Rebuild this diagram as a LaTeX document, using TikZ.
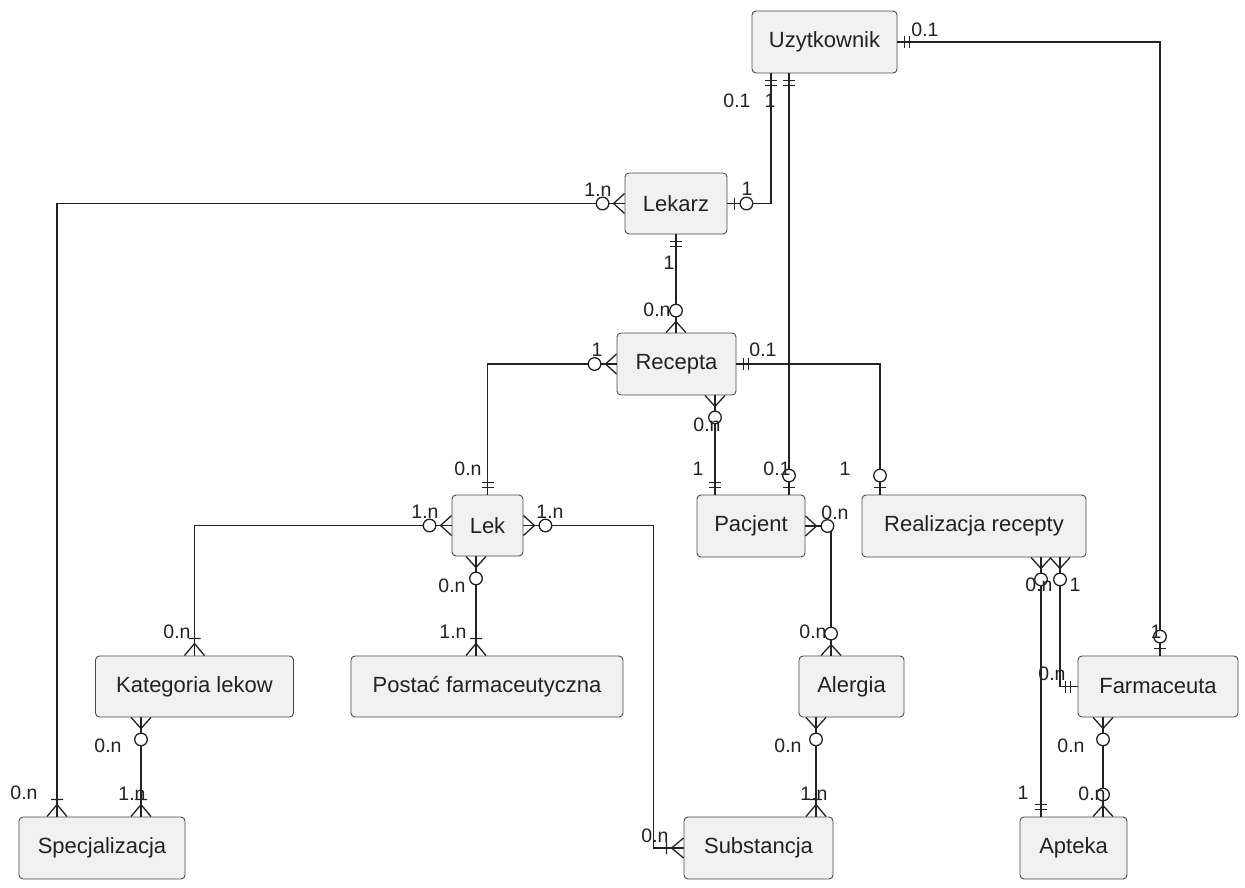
\documentclass[tikz,border=0pt]{standalone}
\usepackage{fontspec}
\setmainfont{Liberation Sans}
\definecolor{boxfill}{HTML}{F1F1F1}
\definecolor{boxline}{HTML}{4A4A4A}
\definecolor{lncol}{HTML}{222222}
\begin{document}
\begin{tikzpicture}[x=1pt,y=-1pt,
  ent/.style={draw=boxline, fill=boxfill, rounded corners=4pt, line width=0.9pt, minimum height=62pt, inner sep=0pt, font=\fontsize{22}{26}\selectfont, text=lncol},
  card/.style={inner sep=0pt, font=\fontsize{19.5}{22}\selectfont, text=lncol},
  conn/.style={line width=1.3pt, draw=lncol},
  mk/.style={line width=1.3pt, draw=lncol},
  mandone/.pic={\draw[mk] (7,-6)--(7,6) (12,-6)--(12,6);},
  zeroone/.pic={\draw[mk] (7,-6)--(7,6); \draw[mk,fill=white] (19,0) circle[radius=6.3pt];},
  zeromany/.pic={\draw[mk] (0,-10)--(11,0)--(0,10); \draw[mk,fill=white] (22,0) circle[radius=6.3pt];},
  onemany/.pic={\draw[mk] (0,-10)--(12,0)--(0,10) (17,-6)--(17,6);}
]
\useasboundingbox (0,0) rectangle (1245,888);

% entities
\node[ent, minimum width=145pt] (uzyt) at (824.5,42) {Uzytkownik};
\node[ent, minimum width=102pt, minimum height=61pt] (lekarz) at (676,203.5) {Lekarz};
\node[ent, minimum width=119pt] (recepta) at (676.5,364) {Recepta};
\node[ent, minimum width=71pt, minimum height=61pt] (lek) at (487.5,525.5) {Lek};
\node[ent, minimum width=108pt] (pacjent) at (751,526) {Pacjent};
\node[ent, minimum width=224pt] (realiz) at (974,526) {Realizacja recepty};
\node[ent, minimum width=198pt, minimum height=61pt] (kat) at (194.5,686.5) {Kategoria lekow};
\node[ent, minimum width=272pt, minimum height=61pt] (postac) at (487,686.5) {Postać farmaceutyczna};
\node[ent, minimum width=105pt, minimum height=61pt] (alergia) at (851.5,686.5) {Alergia};
\node[ent, minimum width=160pt, minimum height=61pt] (farm) at (1158,686.5) {Farmaceuta};
\node[ent, minimum width=166pt] (spec) at (102,848) {Specjalizacja};
\node[ent, minimum width=149pt] (subst) at (758.5,848) {Substancja};
\node[ent, minimum width=107pt] (apteka) at (1073.5,848) {Apteka};

% connector end points
\coordinate (uB) at ([xshift=-53.5pt]uzyt.south);
\coordinate (uC) at ([xshift=-35.5pt]uzyt.south);
\coordinate (fA) at ([xshift=2pt]farm.north);
\coordinate (sD) at ([xshift=-45pt]spec.north);
\coordinate (rE) at (lekarz.south |- recepta.north);
\coordinate (rH) at ([xshift=38.5pt]recepta.south);
\coordinate (pH) at ([xshift=-36pt]pacjent.north);
\coordinate (pC) at ([xshift=38pt]pacjent.north);
\coordinate (zG) at ([xshift=-94pt]realiz.north);
\coordinate (jJ) at ([xshift=-30pt]subst.west);
\coordinate (lK) at ([xshift=-11.5pt]lek.south);
\coordinate (kK) at (lK |- postac.north);
\coordinate (aL) at ([xshift=-20.5pt]alergia.north);
\coordinate (kM) at ([xshift=-53.5pt]kat.south);
\coordinate (sM) at ([xshift=39pt]spec.north);
\coordinate (aN) at ([xshift=-35.5pt]alergia.south);
\coordinate (tN) at ([xshift=57.5pt]subst.north);
\coordinate (zO) at ([xshift=67pt]realiz.south);
\coordinate (pO) at ([xshift=-32.5pt]apteka.north);
\coordinate (zP) at ([xshift=86pt]realiz.south);
\coordinate (fQ) at ([xshift=-55pt]farm.south);
\coordinate (pQ) at ([xshift=29.5pt]apteka.north);

% connectors
\draw[conn] (uzyt.east) -| (fA);
\draw[conn] (uB) |- (lekarz.east);
\draw[conn] (uC) -- (pC);
\draw[conn] (lekarz.west) -| (sD);
\draw[conn] (lekarz.south) -- (rE);
\draw[conn] (recepta.west) -| (lek.north);
\draw[conn] (recepta.east) -| (zG);
\draw[conn] (rH) -- (pH);
\draw[conn] (lek.west) -| (kat.north);
\draw[conn] (lek.east) -| (jJ) -- (subst.west);
\draw[conn] (lK) -- (kK);
\draw[conn] (pacjent.east) -| (aL);
\draw[conn] (kM) -- (sM);
\draw[conn] (aN) -- (tN);
\draw[conn] (zO) -- (pO);
\draw[conn] (zP) |- (farm.west);
\draw[conn] (fQ) -- (pQ);

% markers
\pic[rotate=0] at (uzyt.east) {mandone};
\pic[rotate=90] at (fA) {zeroone};
\pic[rotate=270] at (uB) {mandone};
\pic[rotate=0] at (lekarz.east) {zeroone};
\pic[rotate=270] at (uC) {mandone};
\pic[rotate=90] at (pC) {zeroone};
\pic[rotate=180] at (lekarz.west) {zeromany};
\pic[rotate=90] at (sD) {onemany};
\pic[rotate=270] at (lekarz.south) {mandone};
\pic[rotate=90] at (rE) {zeromany};
\pic[rotate=180] at (recepta.west) {zeromany};
\pic[rotate=90] at (lek.north) {mandone};
\pic[rotate=0] at (recepta.east) {mandone};
\pic[rotate=90] at (zG) {zeroone};
\pic[rotate=270] at (rH) {zeromany};
\pic[rotate=90] at (pH) {mandone};
\pic[rotate=180] at (lek.west) {zeromany};
\pic[rotate=90] at (kat.north) {onemany};
\pic[rotate=0] at (lek.east) {zeromany};
\pic[rotate=180] at (subst.west) {onemany};
\pic[rotate=270] at (lK) {zeromany};
\pic[rotate=90] at (kK) {onemany};
\pic[rotate=0] at (pacjent.east) {zeromany};
\pic[rotate=90] at (aL) {zeromany};
\pic[rotate=270] at (kM) {zeromany};
\pic[rotate=90] at (sM) {onemany};
\pic[rotate=270] at (aN) {zeromany};
\pic[rotate=90] at (tN) {onemany};
\pic[rotate=270] at (zO) {zeromany};
\pic[rotate=90] at (pO) {mandone};
\pic[rotate=270] at (zP) {zeromany};
\pic[rotate=180] at (farm.west) {mandone};
\pic[rotate=270] at (fQ) {zeromany};
\pic[rotate=90] at (pQ) {zeromany};

% cardinality labels
\node[card] (cA1) at (925,30) {0.1};
\node[card] (cA2) at (1156,632) {1};
\node[card] (cB1) at (737,101) {0.1};
\node[card] (cB2) at (747,189) {1};
\node[card] (cC1) at (770,101) {1};
\node[card] (cC2) at (777,469) {0.1};
\node[card] (cD1) at (598,190) {1.n};
\node[card] (cD2) at (24,793) {0.n};
\node[card] (cE1) at (669,263) {1};
\node[card] (cE2) at (657,310) {0.n};
\node[card] (cF1) at (597,350) {1};
\node[card] (cF2) at (468,469) {0.n};
\node[card] (cG1) at (763,350) {0.1};
\node[card] (cG2) at (845,469) {1};
\node[card] (cH1) at (707,425) {0.n};
\node[card] (cH2) at (698,469) {1};
\node[card] (cI1) at (425,512) {1.n};
\node[card] (cI2) at (177,632) {0.n};
\node[card] (cJ1) at (550,512) {1.n};
\node[card] (cJ2) at (655,836) {0.n};
\node[card] (cK1) at (452,586) {0.n};
\node[card] (cK2) at (453,632) {1.n};
\node[card] (cL1) at (835,513) {0.n};
\node[card] (cL2) at (813,632) {0.n};
\node[card] (cM1) at (108,746) {0.n};
\node[card] (cM2) at (132,794) {1.n};
\node[card] (cN1) at (788,746) {0.n};
\node[card] (cN2) at (814,794) {1.n};
\node[card] (cO1) at (1039,585) {0.n};
\node[card] (cO2) at (1023,793) {1};
\node[card] (cP1) at (1075,585) {1};
\node[card] (cP2) at (1052,674) {0.n};
\node[card] (cQ1) at (1071,746) {0.n};
\node[card] (cQ2) at (1092,794) {0.n};
\end{tikzpicture}
\end{document}
